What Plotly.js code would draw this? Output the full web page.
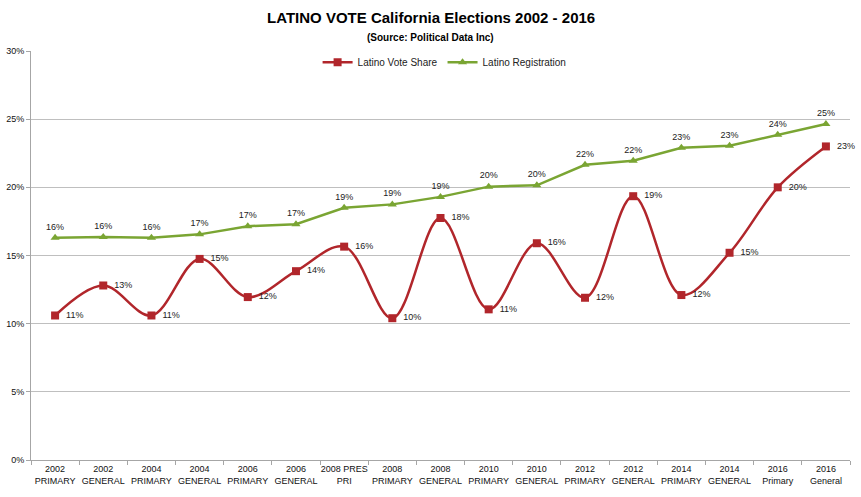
<!DOCTYPE html>
<html>
<head>
<meta charset="utf-8">
<script src="https://cdn.plot.ly/plotly-3.0.1.min.js"></script>
<style>html,body{margin:0;padding:0;background:#fff;}#chart{width:861px;height:497px;}</style>
</head>
<body>
<div id="chart"></div>
<script>
const categories = [
  "2002<br>PRIMARY","2002<br>GENERAL","2004<br>PRIMARY","2004<br>GENERAL",
  "2006<br>PRIMARY","2006<br>GENERAL","2008 PRES<br>PRI","2008<br>PRIMARY",
  "2008<br>GENERAL","2010<br>PRIMARY","2010<br>GENERAL","2012<br>PRIMARY",
  "2012<br>GENERAL","2014<br>PRIMARY","2014<br>GENERAL","2016<br>Primary","2016<br>General"
];
const voteShare = [10.6,12.8,10.6,14.75,11.95,13.85,15.65,10.4,17.75,11.05,15.9,11.9,19.35,12.1,15.2,20.0,23.0];
const registration = [16.3,16.35,16.3,16.55,17.15,17.3,18.5,18.75,19.3,20.05,20.15,21.65,21.95,22.9,23.05,23.85,24.65];
const yTicks = [0,5,10,15,20,25,30];
const yTickLabels = ["0%","5%","10%","15%","20%","25%","30%"];
const chartTitle = "LATINO VOTE California Elections 2002 - 2016";
const chartSubtitle = "(Source: Political Data Inc)";

const FONT = "'Liberation Sans',Arial,sans-serif";
const RED = "#B1262B";
const GREEN = "#7AA533";

const traces = [
  {
    type: "scatter", mode: "lines+markers+text", name: "Latino Vote Share",
    x: categories, y: voteShare,
    line: {color: RED, width: 2.5, shape: "spline", smoothing: 1},
    marker: {symbol: "square", size: 8, color: RED},
    texttemplate: "  %{y:.0f}%", textposition: "middle right",
    textfont: {family: FONT, size: 9, color: "#222"},
    cliponaxis: false
  },
  {
    type: "scatter", mode: "lines+markers+text", name: "Latino Registration",
    x: categories, y: registration,
    line: {color: GREEN, width: 2.5},
    marker: {symbol: "triangle-up", size: 8, color: GREEN},
    texttemplate: "%{y:.0f}%", textposition: "top center",
    textfont: {family: FONT, size: 9, color: "#222"},
    cliponaxis: false
  }
];

const layout = {
  width: 861, height: 497,
  margin: {l: 31, r: 11, t: 51, b: 37},
  paper_bgcolor: "#fff", plot_bgcolor: "#fff",
  font: {family: FONT, size: 10, color: "#222"},
  annotations: [
    {text: "<b>" + chartTitle + "</b>", xref: "paper", yref: "paper", x: 0.488, y: 1.081,
     xanchor: "center", yanchor: "middle", showarrow: false, font: {family: FONT, size: 15, color: "#000"}},
    {text: "<b>" + chartSubtitle + "</b>", xref: "paper", yref: "paper", x: 0.488, y: 1.034,
     xanchor: "center", yanchor: "middle", showarrow: false, font: {family: FONT, size: 10, color: "#000"}}
  ],
  showlegend: true,
  legend: {
    orientation: "h", x: 0.505, xanchor: "center", y: 1.008, yanchor: "top",
    font: {family: FONT, size: 10, color: "#222"}, bgcolor: "rgba(0,0,0,0)",
    traceorder: "normal", itemwidth: 30
  },
  xaxis: {
    type: "category", range: [-0.5, categories.length - 0.5], autorange: false,
    showgrid: false, showline: true, linecolor: "#A6A6A6", linewidth: 1,
    ticks: "outside", tickson: "boundaries", ticklen: 4, tickcolor: "#A6A6A6", tickangle: 0,
    tickfont: {family: FONT, size: 9, color: "#111"}, zeroline: false
  },
  yaxis: {
    range: [0, 30], autorange: false, tickmode: "array", tickvals: yTicks, ticktext: yTickLabels,
    showgrid: true, gridcolor: "#BFBFBF", gridwidth: 1,
    showline: true, linecolor: "#A6A6A6", linewidth: 1,
    ticks: "outside", ticklen: 4, tickcolor: "#A6A6A6",
    tickfont: {family: FONT, size: 9, color: "#111"}, zeroline: false
  }
};

Plotly.newPlot("chart", traces, layout, {displayModeBar: false, staticPlot: true});
</script>
</body>
</html>
